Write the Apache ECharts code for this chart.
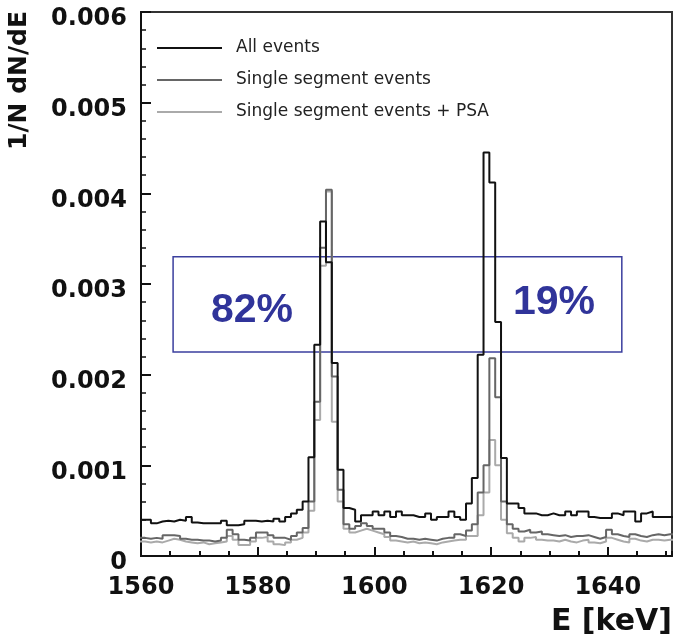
<!DOCTYPE html>
<html>
<head>
<meta charset="utf-8">
<script src="https://cdn.jsdelivr.net/npm/echarts@6/dist/echarts.min.js"></script>
<style>
  html, body { margin: 0; padding: 0; background: #fff; }
  #main { width: 675px; height: 641px; }
</style>
</head>
<body>
<div id="main"></div>
<script>
  // histogram bins: 1 keV wide, first bin starts at binStart
  const binStart = 1559.7;
  const binWidth = 1;

  const allEvents = [
    0.00040, 0.00040, 0.00036, 0.00038, 0.00039, 0.00038, 0.00040, 0.00039, 0.00043, 0.00037,
    0.00036, 0.00036, 0.00036, 0.00036, 0.00039, 0.00034, 0.00034, 0.00035, 0.00039, 0.00039,
    0.00038, 0.00039, 0.00038, 0.00041, 0.00038, 0.00043, 0.00047, 0.00051, 0.00060, 0.00109,
    0.00233, 0.00369, 0.00324, 0.00213, 0.00095, 0.00053, 0.00051, 0.00038, 0.00045, 0.00045,
    0.00049, 0.00045, 0.00049, 0.00043, 0.00049, 0.00045, 0.00045, 0.00043, 0.00043, 0.00047,
    0.00040, 0.00043, 0.00043, 0.00049, 0.00043, 0.00040, 0.00058, 0.00086, 0.00222, 0.00445,
    0.00412, 0.00258, 0.00108, 0.00058, 0.00058, 0.00053, 0.00047, 0.00047, 0.00045, 0.00045,
    0.00047, 0.00045, 0.00045, 0.00049, 0.00045, 0.00049, 0.00049, 0.00043, 0.00042, 0.00042,
    0.00042, 0.00047, 0.00045, 0.00049, 0.00049, 0.00038, 0.00047, 0.00049, 0.00043, 0.00043,
    0.00043, 0.00043
  ];

  const singleSeg = [
    0.00020, 0.00019, 0.00020, 0.00019, 0.00023, 0.00023, 0.00022, 0.00019, 0.00018, 0.00018,
    0.00017, 0.00017, 0.00016, 0.00017, 0.00020, 0.00029, 0.00024, 0.00018, 0.00017, 0.00020,
    0.00026, 0.00026, 0.00023, 0.00020, 0.00020, 0.00018, 0.00022, 0.00026, 0.00031, 0.00060,
    0.00170, 0.00340, 0.00404, 0.00198, 0.00073, 0.00035, 0.00030, 0.00033, 0.00036, 0.00033,
    0.00030, 0.00030, 0.00026, 0.00022, 0.00021, 0.00019, 0.00019, 0.00018, 0.00019, 0.00018,
    0.00017, 0.00019, 0.00020, 0.00020, 0.00024, 0.00022, 0.00028, 0.00035, 0.00070, 0.00100,
    0.00218, 0.00175, 0.00060, 0.00035, 0.00030, 0.00027, 0.00029, 0.00026, 0.00027, 0.00024,
    0.00023, 0.00022, 0.00023, 0.00021, 0.00022, 0.00022, 0.00023, 0.00021, 0.00019, 0.00021,
    0.00029, 0.00024, 0.00022, 0.00021, 0.00024, 0.00022, 0.00021, 0.00023, 0.00024, 0.00023,
    0.00024, 0.00024
  ];

  const singleSegPSA = [
    0.00016, 0.00015, 0.00016, 0.00015, 0.00017, 0.00019, 0.00018, 0.00016, 0.00015, 0.00014,
    0.00015, 0.00013, 0.00014, 0.00015, 0.00016, 0.00022, 0.00018, 0.00012, 0.00012, 0.00016,
    0.00020, 0.00021, 0.00016, 0.00013, 0.00012, 0.00015, 0.00018, 0.00020, 0.00026, 0.00050,
    0.00150, 0.00320, 0.00402, 0.00148, 0.00060, 0.00030, 0.00026, 0.00028, 0.00030, 0.00028,
    0.00026, 0.00024, 0.00021, 0.00017, 0.00016, 0.00015, 0.00016, 0.00014, 0.00015, 0.00014,
    0.00013, 0.00015, 0.00016, 0.00017, 0.00018, 0.00018, 0.00022, 0.00022, 0.00045, 0.00070,
    0.00128, 0.00100, 0.00040, 0.00025, 0.00020, 0.00016, 0.00020, 0.00021, 0.00018, 0.00017,
    0.00017, 0.00016, 0.00018, 0.00016, 0.00015, 0.00017, 0.00018, 0.00015, 0.00014, 0.00016,
    0.00020, 0.00018, 0.00016, 0.00015, 0.00019, 0.00017, 0.00016, 0.00018, 0.00018, 0.00017,
    0.00018, 0.00018
  ];

  const seriesNames = ['All events', 'Single segment events', 'Single segment events + PSA'];
  const lineColors = ['#111111', '#666666', '#aaaaaa'];

  // annotation box and survival fractions
  const boxE = [1565.5, 1642.4];
  const boxY = [0.00225, 0.0033];
  const fractions = ['82%', '19%'];

  function steps(values) {
    let pts = values.map((v, i) => [binStart + i * binWidth, v]);
    pts.push([binStart + values.length * binWidth, values[values.length - 1]]);
    return pts;
  }

  let chart = echarts.init(document.getElementById('main'));

  const tickFont = {
    fontFamily: 'DejaVu Sans',
    fontWeight: 'bold',
    fontSize: 24,
    color: '#111'
  };

  function histSeries(name, values, color, z) {
    return {
      name: name,
      type: 'line',
      step: 'end',
      symbol: 'none',
      z: z,
      data: steps(values),
      lineStyle: { color: color, width: 2 },
      itemStyle: { color: color }
    };
  }

  let option = {
    animation: false,
    backgroundColor: '#fff',
    grid: {
      left: 141,
      right: 3,
      top: 12,
      bottom: 85,
      show: true,
      borderColor: '#333',
      borderWidth: 2
    },
    legend: {
      orient: 'vertical',
      left: 157,
      top: 38,
      padding: 0,
      icon: 'rect',
      itemWidth: 65,
      itemHeight: 2,
      itemGap: 12,
      data: seriesNames,
      textStyle: {
        fontFamily: 'DejaVu Sans',
        fontSize: 17,
        color: '#222',
        lineHeight: 20,
        padding: [0, 0, 0, 9]
      }
    },
    xAxis: [{
      type: 'value',
      min: 1560,
      max: 1651,
      interval: 20,
      axisLine: { lineStyle: { color: '#111', width: 2 } },
      axisTick: { inside: true, length: 9, lineStyle: { color: '#111', width: 2 } },
      axisLabel: Object.assign({
        margin: 20,
        showMaxLabel: false,
        formatter: v => String(v)
      }, tickFont),
      splitLine: { show: false }
    }, {
      // minor ticks every 5 keV
      type: 'value',
      position: 'bottom',
      min: 1560,
      max: 1651,
      interval: 5,
      axisLine: { show: false },
      axisTick: { inside: true, length: 5, lineStyle: { color: '#111', width: 2 } },
      axisLabel: { show: false },
      splitLine: { show: false }
    }],
    yAxis: {
      type: 'value',
      min: 0,
      max: 0.006,
      interval: 0.001,
      axisLine: { show: true, lineStyle: { color: '#111', width: 2 } },
      axisTick: { show: true, inside: true, length: 10, lineStyle: { color: '#111', width: 2 } },
      minorTick: { show: true, splitNumber: 5, length: 5, lineStyle: { color: '#111', width: 1.5 } },
      axisLabel: Object.assign({
        margin: 14,
        verticalAlign: 'top',
        lineHeight: 14,
        formatter: v => (v === 0 ? '0' : v.toFixed(3))
      }, tickFont),
      splitLine: { show: false }
    },
    graphic: [
      {
        type: 'text',
        x: 7,
        y: 150,
        rotation: Math.PI / 2,
        style: {
          text: '1/N dN/dE',
          font: 'bold 25px "DejaVu Sans"',
          fill: '#111',
          align: 'left',
          verticalAlign: 'top'
        }
      },
      {
        type: 'text',
        x: 672,
        y: 622,
        style: {
          text: 'E [keV]',
          font: 'bold 30px "DejaVu Sans"',
          fill: '#111',
          align: 'right',
          verticalAlign: 'middle'
        }
      },
      {
        type: 'text',
        x: 252,
        y: 311,
        z: 100,
        style: {
          text: fractions[0],
          font: 'bold 41px "Liberation Sans"',
          fill: '#30349a',
          align: 'center',
          verticalAlign: 'middle'
        }
      },
      {
        type: 'text',
        x: 554,
        y: 303,
        z: 100,
        style: {
          text: fractions[1],
          font: 'bold 41px "Liberation Sans"',
          fill: '#30349a',
          align: 'center',
          verticalAlign: 'middle'
        }
      }
    ],
    series: [
      histSeries(seriesNames[2], singleSegPSA, lineColors[2], 2),
      histSeries(seriesNames[1], singleSeg, lineColors[1], 3),
      Object.assign(histSeries(seriesNames[0], allEvents, lineColors[0], 4), {
        markArea: {
          silent: true,
          itemStyle: {
            color: 'rgba(0,0,0,0)',
            borderColor: '#3b3f9e',
            borderWidth: 1.5
          },
          data: [[{ coord: [boxE[0], boxY[1]] }, { coord: [boxE[1], boxY[0]] }]]
        }
      })
    ]
  };
  chart.setOption(option);
</script>
</body>
</html>
